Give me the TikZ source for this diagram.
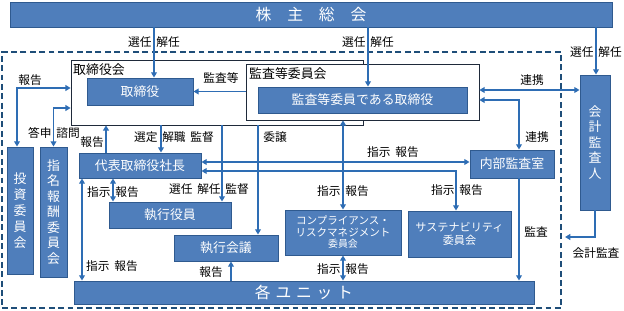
\documentclass[tikz,border=0pt]{standalone}
\usepackage{fontspec}
\setmainfont{Noto Sans CJK JP}
\usepackage{xcolor}
\usepackage{tikz}
\usetikzlibrary{positioning,arrows.meta,calc}
\definecolor{boxblue}{HTML}{4F7EBB}
\definecolor{edgeblue}{HTML}{2F5A8F}
\definecolor{lineblue}{HTML}{2E6DB4}
\definecolor{frameblue}{HTML}{1F4E79}
\definecolor{dark}{HTML}{1F2A3A}
\newcommand{\pxl}{0.03cm}
\newcommand{\wgap}{\hspace{0.4em}}
\tikzset{
    block/.style={rectangle, draw=edgeblue, fill=boxblue, line width=0.8pt, inner sep=0pt, align=center, text=white, font=\fontsize{11}{13}\selectfont},
    panel/.style={rectangle, draw=dark, fill=white, line width=0.6pt, inner sep=0pt},
    frame/.style={rectangle, draw=frameblue, dash pattern=on 5pt off 3pt, line width=1.2pt, inner sep=0pt},
    arrow/.style={-{Triangle[length=4.5pt,width=5pt]}, line width=1.4pt, color=lineblue},
    biarrow/.style={{Triangle[length=4.5pt,width=5pt]}-{Triangle[length=4.5pt,width=5pt]}, line width=1.4pt, color=lineblue},
    lbl/.style={font=\fontsize{10}{11}\selectfont, inner sep=0.5pt, text=black},
    title/.style={font=\fontsize{11}{13}\selectfont, inner sep=0pt, anchor=north west},
    wh/.style 2 args={minimum width=#1*\pxl, minimum height=#2*\pxl}
}

\begin{document}
\begin{tikzpicture}[x=\pxl, y=-\pxl]
\useasboundingbox (0,0) rectangle (624,310);

% Company boundary
\node[frame, wh={559}{256}] (frame) at (281.5,180) {};

% Shareholders meeting
\node[block, wh={602}{25}, font=\fontsize{13.5}{15}\selectfont] (gm) at (311,14.5) {株　主　総　会};

% Board and audit committee
\node[panel, wh={292}{65}] (board) at (217,92.5) {};
\node[title] (boardlbl) at (73,63) {取締役会};
\node[panel, wh={233}{56}] (acm) at (362.5,92) {};
\node[title] (acmlbl) at (249,67) {監査等委員会};
\node[block, wh={106}{27}] (dir) at (140,91.5) {取締役};
\node[block, wh={209}{26}] (acdir) at (362.5,100) {監査等委員である取締役};

% Auditors
\node[block, wh={30}{135}, font=\fontsize{11}{13.2}\selectfont] (auditor) at (595,142.5) {会\\計\\監\\査\\人};
\node[block, wh={84}{28}] (iaud) at (512,164) {内部監査室};
\coordinate (kaend) at (565,237);

% Committees
\node[block, wh={26}{127}, font=\fontsize{11}{13.6}\selectfont] (inv) at (20,210.5) {投\\資\\委\\員\\会};
\node[block, wh={27}{130}, font=\fontsize{11}{13.2}\selectfont] (nom) at (53.5,212) {指\\名\\報\\酬\\委\\員\\会};
\node[block, wh={116}{45}, font=\fontsize{9}{9.8}\selectfont] (comp) at (343,232.5) {コンプライアンス・\\リスクマネジメント\\{\fontsize{8.5}{9.8}\selectfont 委員会}};
\node[block, wh={103}{46}, font=\fontsize{9.5}{11}\selectfont] (sus) at (459.5,234) {サステナビリティ\\委員会};

% Execution
\node[block, wh={122}{25}] (ceo) at (140,165.5) {代表取締役社長};
\node[block, wh={122}{26}] (exec) at (170,215) {執行役員};
\node[block, wh={104}{26}] (meeting) at (226,248) {執行会議};
\node[block, wh={460}{23}, font=\fontsize{13.5}{15}\selectfont] (units) at (304,292.5) {各\hspace{0.3em}ユ\hspace{0.3em}ニ\hspace{0.3em}ッ\hspace{0.3em}ト};

% Appointments
\draw[arrow] ([xshift=14*\pxl]dir.north |- gm.south) -- ([xshift=14*\pxl]dir.north);
\node[lbl] at (154,42) {選任\wgap 解任};
\draw[arrow] ([xshift=5.5*\pxl]acdir.north |- gm.south) -- ([xshift=5.5*\pxl]acdir.north);
\node[lbl] at (368,42) {選任\wgap 解任};
\draw[arrow] ([xshift=1*\pxl]auditor.north |- gm.south) -- ([xshift=1*\pxl]auditor.north);
\node[lbl] at (596,52) {選任\wgap 解任};

% Audit links
\draw[arrow] (acm.west |- dir.east) -- (dir.east);
\node[lbl] at (221,78) {監査等};
\draw[biarrow] ([yshift=2*\pxl]acm.east) -- ([yshift=2*\pxl]acm.east -| auditor.west);
\node[lbl] at (532,80) {連携};
\draw[biarrow] ([yshift=-8*\pxl]acm.east) -| ([xshift=7*\pxl]iaud.north);
\node[lbl] at (537,137) {連携};
\draw[arrow] ([xshift=7*\pxl]iaud.south) -- ([xshift=7*\pxl]iaud.south |- units.north);
\node[lbl] at (536,232) {監査};
\draw[arrow] (auditor.south) |- (kaend);
\node[lbl] at (596,253) {会計監査};

% Committees to board
\draw[biarrow] ([xshift=-3*\pxl]inv.north) |- ([yshift=4.5*\pxl]board.west);
\node[lbl] at (30,80) {報告};
\draw[biarrow] (nom.north) |- ([yshift=-15.5*\pxl]board.west);
\node[lbl] at (54,133) {答申\wgap 諮問};

% Board to execution
\draw[arrow] ([xshift=-34*\pxl]ceo.north) -- ([xshift=-34*\pxl]ceo.north |- board.south);
\node[lbl] at (92,142) {報告};
\draw[arrow] ([xshift=21*\pxl]ceo.north |- board.south) -- ([xshift=21*\pxl]ceo.north);
\node[lbl] at (174,137) {選定\wgap 解職\wgap 監督};
\draw[arrow] ([xshift=52*\pxl]exec.north |- board.south) -- ([xshift=52*\pxl]exec.north);
\node[lbl] at (209,189) {選任\wgap 解任\wgap 監督};
\draw[arrow] ([xshift=32*\pxl]meeting.north |- board.south) -- ([xshift=32*\pxl]meeting.north);
\node[lbl] at (275,137) {委譲};

% Instructions and reports
\draw[biarrow] ([yshift=3.5*\pxl]ceo.east) -- ([yshift=3.5*\pxl]ceo.east -| iaud.west);
\node[lbl] at (393,152) {指示\wgap 報告};
\draw[biarrow] ([yshift=-5.5*\pxl]ceo.east) -| ([xshift=-3.5*\pxl]sus.north);
\node[lbl] at (457,190) {指示\wgap 報告};
\draw[biarrow] (acm.south -| comp.north) -- (comp.north);
\node[lbl] at (343,191) {指示\wgap 報告};
\draw[biarrow] (comp.south) -- (comp.south |- units.north);
\node[lbl] at (343,269) {指示\wgap 報告};
\draw[biarrow] ([xshift=-27*\pxl]ceo.south) -- ([xshift=-27*\pxl]ceo.south |- exec.north);
\node[lbl] at (113,192) {指示\wgap 報告};
\draw[biarrow] ([xshift=-58*\pxl]ceo.south) -- ([xshift=-58*\pxl]ceo.south |- units.north);
\node[lbl] at (112,266) {指示\wgap 報告};
\draw[arrow] ([xshift=5*\pxl]meeting.south |- units.north) -- ([xshift=5*\pxl]meeting.south);
\node[lbl] at (211,272) {報告};

\end{tikzpicture}
\end{document}
